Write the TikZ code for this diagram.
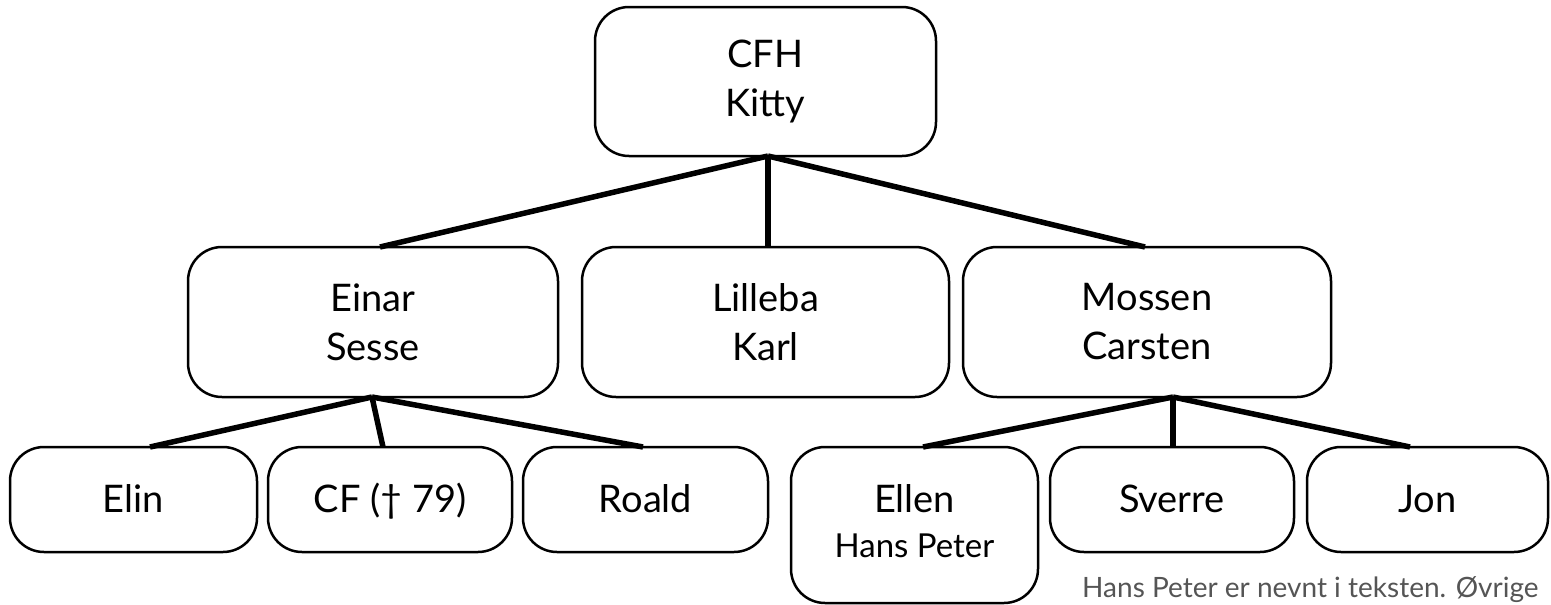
\documentclass[tikz,border=0pt]{standalone}
\usepackage{fontspec}
\setmainfont{Lato}
\usetikzlibrary{calc}
\definecolor{notegray}{RGB}{85,85,85}
\begin{document}
\begin{tikzpicture}[x=1pt,y=-1pt,
  box/.style={draw=black, fill=white, line width=2.5pt, rounded corners=34pt,
    inner sep=0pt, outer sep=0pt, align=center,
    font=\fontsize{38}{49}\selectfont},
  gen2/.style={box, minimum height=150pt},
  gen3/.style={box, minimum height=105pt, text height=28pt, text depth=3pt},
  nametext/.style={inner sep=0pt, anchor=base},
  link/.style={line width=5.5pt, line cap=butt}]
\useasboundingbox (0,0) rectangle (1551,605);

% family boxes
\node[box, minimum width=341pt, minimum height=149pt] (root) at (765.5,81.5) {CFH\\Kitty};

\node[gen2, minimum width=370pt] (einar)   at (373,322)   {Einar\\Sesse};
\node[gen2, minimum width=367pt] (lilleba) at (765.5,322) {Lilleba\\Karl};
\node[gen2, minimum width=368pt] (mossen)  at (1147,322)  {Mossen\\Carsten};

\node[gen3, minimum width=247pt] (elin)   at (133.5,499.5)  {Elin};
\node[gen3, minimum width=244pt] (cf)     at (390,499.5)    {CF († 79)};
\node[gen3, minimum width=245pt] (roald)  at (645.5,499.5)  {Roald};
\node[box, minimum width=247pt, minimum height=156pt] (ellen) at (914.5,525) {};
\node[nametext, font=\fontsize{38}{49}\selectfont] (ellenname) at (914.5,512) {Ellen};
\node[nametext, font=\fontsize{33}{40}\selectfont] (hpname) at (914.5,557) {Hans Peter};
\node[gen3, minimum width=244pt] (sverre) at (1172,499.5)   {Sverre};
\node[gen3, minimum width=241pt] (jon)    at (1427.5,499.5) {Jon};

% connectors
\coordinate (rj) at ($(root.south)+(2.5,0)$);
\draw[link] (rj) -- ($(einar.north)+(7,0)$);
\draw[link] (rj) -- (rj |- lilleba.north);
\draw[link] (rj) -- ($(mossen.north)+(-2,0)$);

\coordinate (ej) at ($(einar.south)+(-1,0)$);
\draw[link] (ej) -- ($(elin.north)+(16.5,0)$);
\draw[link] (ej) -- ($(cf.north)+(-7,0)$);
\draw[link] (ej) -- ($(roald.north)+(-2.5,0)$);

\coordinate (mj) at ($(mossen.south)+(26,0)$);
\draw[link] (mj) -- ($(ellen.north)+(8.5,0)$);
\draw[link] (mj) -- (mj |- sverre.north);
\draw[link] (mj) -- ($(jon.north)+(-17.5,0)$);

% footnote
\node[anchor=base west, inner sep=0pt, text=notegray, font=\fontsize{28}{34}\selectfont] (note)
  at (1082,597) {Hans Peter er nevnt i teksten. Øvrige};
\end{tikzpicture}
\end{document}
